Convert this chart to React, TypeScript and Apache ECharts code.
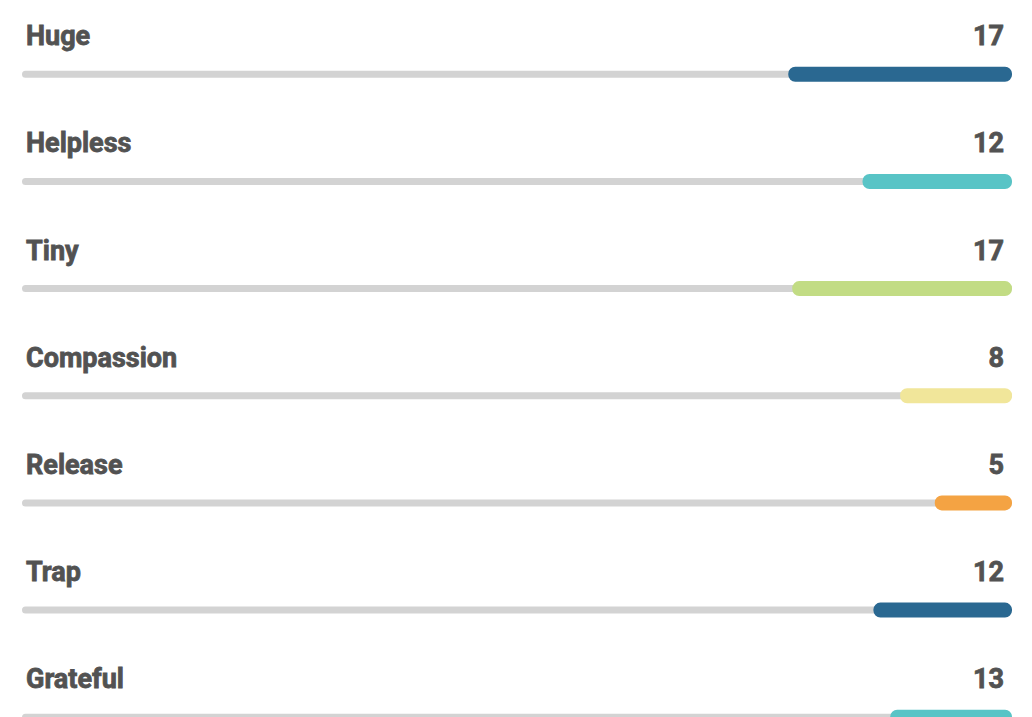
import React, { useEffect, useRef } from "react";
import * as echarts from "echarts";

const categories = ["Huge", "Helpless", "Tiny", "Compassion", "Release", "Trap", "Grateful"];
const counts = [17, 12, 17, 8, 5, 12, 13];
// share of the full track (percent)
const shares = [22.6, 15.1, 22.2, 11.3, 7.8, 14.0, 12.3];
const trackMax = 100;
const palette = ["#2a6891", "#58c4c6", "#c2dc84", "#f1e69a", "#f4a343"];

const textStyle = {
  fontFamily: "Roboto",
  fontWeight: "bold" as const,
  fontSize: 27,
  color: "#525252",
  textBorderColor: "#525252",
  textBorderWidth: 0.8,
};

export default function App() {
  const ref = useRef<HTMLDivElement>(null);
  useEffect(() => {
    if (!ref.current) return;
    const chart = echarts.init(ref.current, undefined, { renderer: "svg" });
    chart.setOption({
      animation: false,
      grid: { left: 22, right: 20, top: 20.7, height: categories.length * 107.16 },
      xAxis: { type: "value", min: 0, max: trackMax, show: false },
      yAxis: [
        { type: "category", data: categories, inverse: true, show: false },
        { type: "category", data: categories, inverse: true, show: false },
      ],
      series: [
        {
          name: "track",
          type: "bar",
          yAxisIndex: 0,
          barWidth: 7,
          silent: true,
          data: categories.map(() => trackMax),
          itemStyle: { color: "#d3d3d3", borderRadius: 3.5 },
          label: {
            show: true,
            position: [4, -34.5],
            align: "left",
            verticalAlign: "middle",
            formatter: (p: any) => categories[p.dataIndex],
            ...textStyle,
          },
        },
        {
          name: "offset",
          type: "bar",
          yAxisIndex: 1,
          stack: "s",
          barWidth: 15,
          silent: true,
          data: shares.map((s) => trackMax - s),
          itemStyle: { color: "transparent" },
        },
        {
          name: "value",
          type: "bar",
          yAxisIndex: 1,
          stack: "s",
          barWidth: 15,
          data: shares,
          itemStyle: {
            color: (p: any) => palette[p.dataIndex % palette.length],
            borderRadius: 7,
          },
          label: {
            show: true,
            position: ["100%", -30.5],
            offset: [-8, 0],
            align: "right",
            verticalAlign: "middle",
            formatter: (p: any) => String(counts[p.dataIndex]),
            ...textStyle,
          },
        },
      ],
    });
    return () => chart.dispose();
  }, []);
  return (
    <div
      ref={ref}
      style={{ position: "fixed", left: 0, top: 0, width: 1032, height: 800, background: "#fff" }}
    />
  );
}
